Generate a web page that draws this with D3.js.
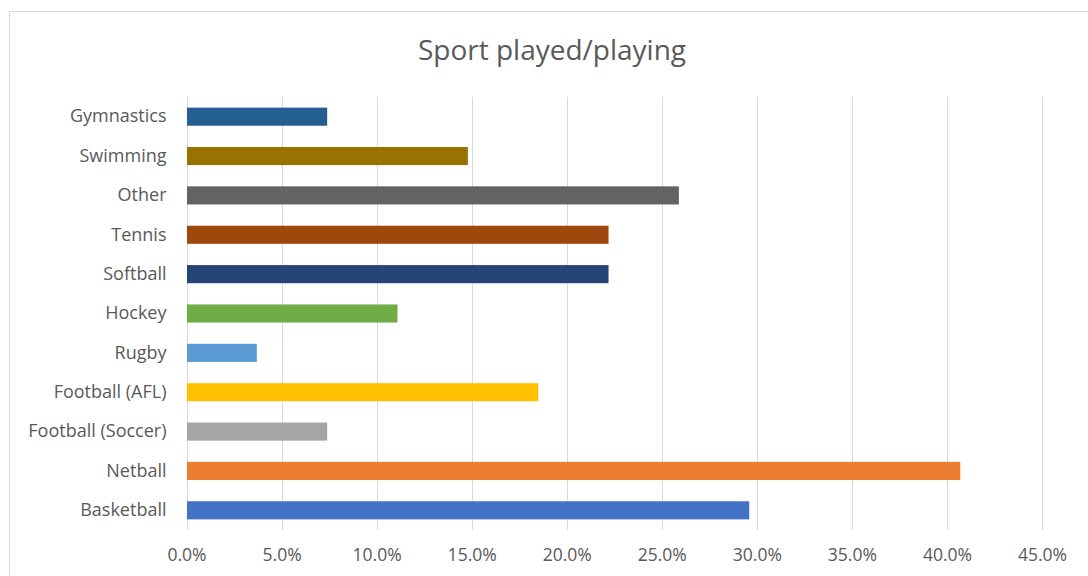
<!DOCTYPE html>
<html>
<head>
<meta charset="utf-8">
<script src="https://cdn.jsdelivr.net/npm/d3@7"></script>
<style>
  html, body { margin: 0; padding: 0; background: #fff; }
  svg { display: block; font-family: "Open Sans", "Noto Sans", sans-serif; }
</style>
</head>
<body>
<svg id="chart" width="1088" height="576"></svg>
<script>
// Sports played, share of respondents (listed bottom to top as drawn)
const sports = ["Basketball", "Netball", "Football (Soccer)", "Football (AFL)", "Rugby",
  "Hockey", "Softball", "Tennis", "Other", "Swimming", "Gymnastics"];
const shares = [0.296, 0.407, 0.074, 0.185, 0.037, 0.111, 0.222, 0.222, 0.259, 0.148, 0.074];
const barColors = ["#4472C4", "#ED7D31", "#A5A5A5", "#FFC000", "#5B9BD5",
  "#70AD47", "#264478", "#9E480E", "#636363", "#997300", "#255E91"];
const xTicks = [0, 0.05, 0.10, 0.15, 0.20, 0.25, 0.30, 0.35, 0.40, 0.45];
const chartTitle = "Sport played/playing";

const svg = d3.select("#chart");
const W = 1088, H = 576;
const margin = { left: 186.5, right: 46, top: 97, bottom: 46 };

// outer chart frame
svg.append("rect")
  .attr("x", 9.5).attr("y", 11.5)
  .attr("width", 1090).attr("height", 580)
  .attr("fill", "#fff").attr("stroke", "#d9d9d9").attr("stroke-width", 1);

const x = d3.scaleLinear().domain([0, 0.45]).range([margin.left, W - margin.right]);
const y = d3.scaleBand()
  .domain(sports.slice().reverse())
  .range([margin.top, H - margin.bottom])
  .paddingInner(0.54).paddingOuter(0.27);

// vertical gridlines
svg.append("g").selectAll("line").data(xTicks).join("line")
  .attr("x1", d => Math.round(x(d)) + 0.5).attr("x2", d => Math.round(x(d)) + 0.5)
  .attr("y1", margin.top).attr("y2", H - margin.bottom)
  .attr("stroke", "#d9d9d9").attr("stroke-width", 1);

// bars
svg.append("g").selectAll("rect").data(sports).join("rect")
  .attr("x", x(0) + 0.5)
  .attr("y", d => y(d))
  .attr("width", (d, i) => x(shares[i]) - x(0) - 0.5)
  .attr("height", y.bandwidth())
  .attr("fill", (d, i) => barColors[i]);

// x axis labels
const xAxis = d3.axisBottom(x).tickValues(xTicks).tickFormat(d3.format(".1%")).tickSize(0).tickPadding(0);
const gx = svg.append("g")
  .attr("transform", `translate(0,${H - margin.bottom})`)
  .call(xAxis);
gx.select(".domain").remove();
gx.selectAll("text")
  .attr("y", 25).attr("dy", "0.32em")
  .attr("fill", "#595959").style("font-size", "17.5px")
  .style("font-family", "'Open Sans', sans-serif");

// category labels
const yAxis = d3.axisLeft(y).tickSize(0).tickPadding(0);
const gy = svg.append("g")
  .attr("transform", `translate(${margin.left - 20},0)`)
  .call(yAxis);
gy.select(".domain").remove();
gy.selectAll("text")
  .attr("fill", "#595959").style("font-size", "18px")
  .style("font-family", "'Open Sans', sans-serif");

// title
svg.append("text")
  .attr("x", 552).attr("y", 50).attr("dy", "0.35em")
  .attr("text-anchor", "middle")
  .attr("fill", "#595959").style("font-size", "28px")
  .text(chartTitle);
</script>
</body>
</html>
